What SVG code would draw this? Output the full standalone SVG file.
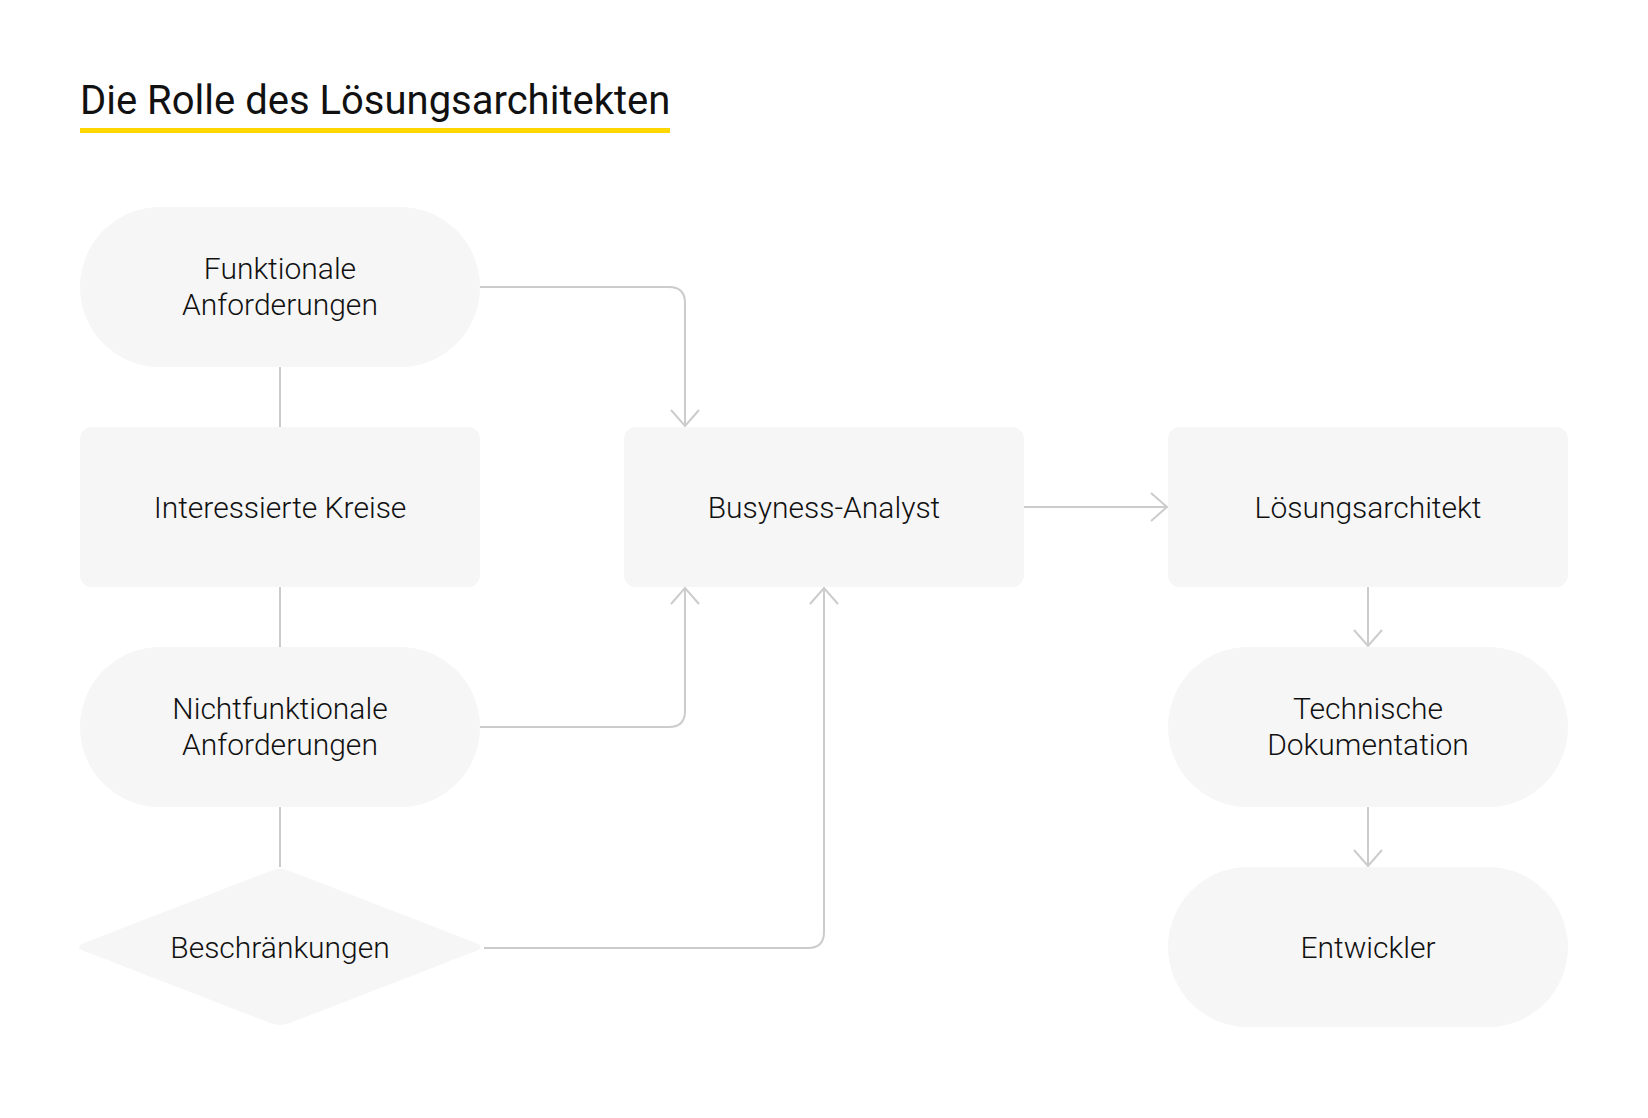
<svg xmlns="http://www.w3.org/2000/svg" width="1648" height="1118" viewBox="0 0 1648 1118">
<defs>
<style>
.n{fill:#f6f6f6}
.t{font-family:Roboto,"Liberation Sans",sans-serif;font-weight:300;font-size:30px;fill:#111;text-anchor:middle}
.c{fill:none;stroke:#cccccc;stroke-width:2}
.title{font-family:Roboto,"Liberation Sans",sans-serif;font-weight:400;font-size:40px;fill:#111}
</style>
<marker id="ah" viewBox="0 0 20 30" refX="18" refY="15" markerWidth="20" markerHeight="30" markerUnits="userSpaceOnUse" orient="auto">
<path d="M2,1 L18,15 L2,29" fill="none" stroke="#cccccc" stroke-width="2"/>
</marker>
</defs>
<rect width="1648" height="1118" fill="#ffffff"/>
<g id="title">
<text class="title" x="80" y="114">Die Rolle des Lösungsarchitekten</text>
<rect x="80" y="128" width="590" height="5" fill="#ffd700"/>
</g>
<g id="connectors">
<path class="c" d="M280,367 V427"/>
<path class="c" d="M280,587 V647"/>
<path class="c" d="M280,807 V867"/>
<path class="c" d="M480,287 H669 Q685,287 685,303 V426" marker-end="url(#ah)"/>
<path class="c" d="M480,727 H669 Q685,727 685,711 V588" marker-end="url(#ah)"/>
<path class="c" d="M484,948 H808 Q824,948 824,932 V588" marker-end="url(#ah)"/>
<path class="c" d="M1024,507 H1167" marker-end="url(#ah)"/>
<path class="c" d="M1368,587 V646" marker-end="url(#ah)"/>
<path class="c" d="M1368,807 V866" marker-end="url(#ah)"/>
</g>
<g id="funktionale">
<rect class="n" x="80" y="207" width="400" height="160" rx="80"/>
<text class="t" x="280" y="279">Funktionale</text>
<text class="t" x="280" y="315">Anforderungen</text>
</g>
<g id="interessierte">
<rect class="n" x="80" y="427" width="400" height="160" rx="12"/>
<text class="t" x="280" y="518">Interessierte Kreise</text>
</g>
<g id="nichtfunktionale">
<rect class="n" x="80" y="647" width="400" height="160" rx="80"/>
<text class="t" x="280" y="719">Nichtfunktionale</text>
<text class="t" x="280" y="755">Anforderungen</text>
</g>
<g id="beschraenkungen">
<path class="n" d="M290,871 L476,943 Q486,947 476,951 L290,1023 Q280,1027 270,1023 L84,951 Q74,947 84,943 L270,871 Q280,867 290,871 Z"/>
<text class="t" x="280" y="958">Beschränkungen</text>
</g>
<g id="analyst">
<rect class="n" x="624" y="427" width="400" height="160" rx="12"/>
<text class="t" x="824" y="518">Busyness-Analyst</text>
</g>
<g id="architekt">
<rect class="n" x="1168" y="427" width="400" height="160" rx="12"/>
<text class="t" x="1368" y="518">Lösungsarchitekt</text>
</g>
<g id="dokumentation">
<rect class="n" x="1168" y="647" width="400" height="160" rx="80"/>
<text class="t" x="1368" y="719">Technische</text>
<text class="t" x="1368" y="755">Dokumentation</text>
</g>
<g id="entwickler">
<rect class="n" x="1168" y="867" width="400" height="160" rx="80"/>
<text class="t" x="1368" y="958">Entwickler</text>
</g>
</svg>
